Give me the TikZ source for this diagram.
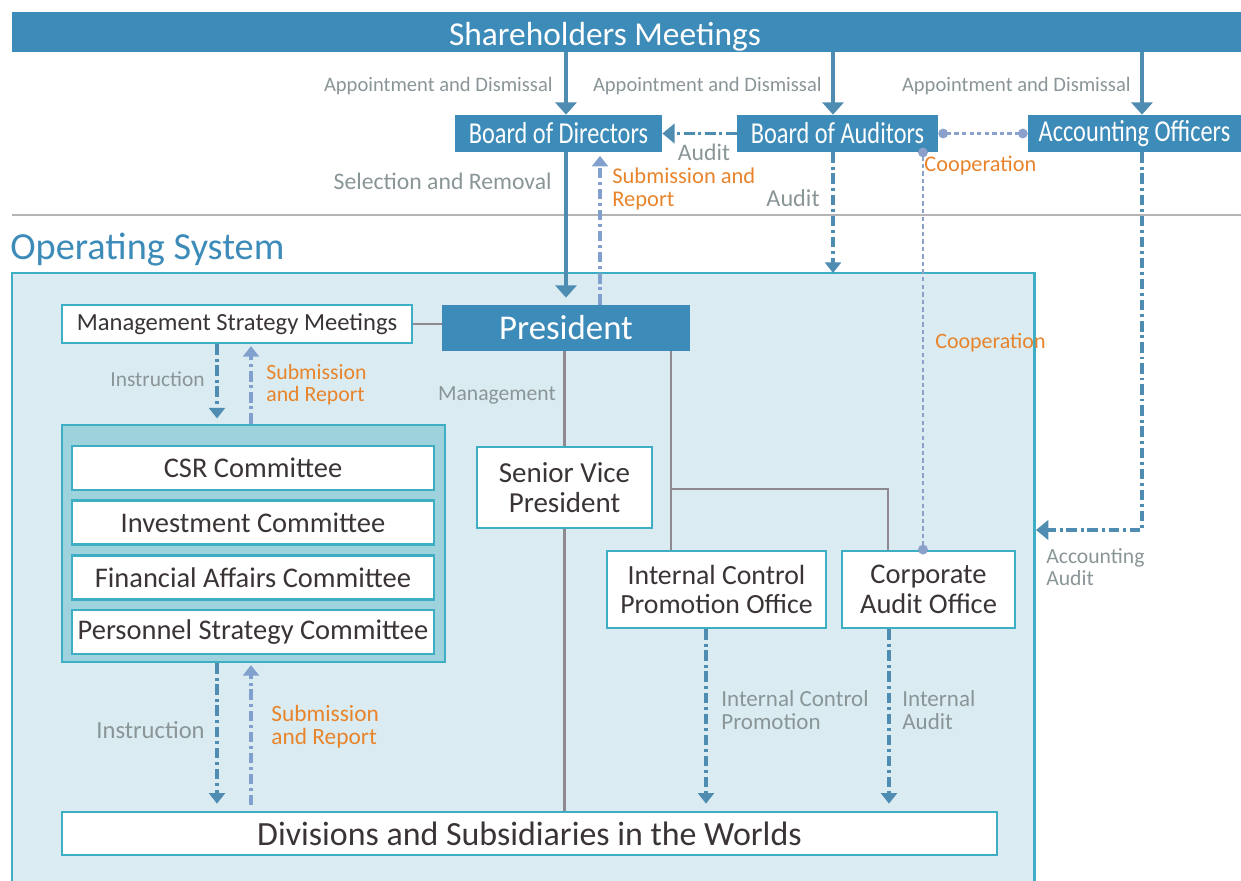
\documentclass[tikz,border=0pt]{standalone}
\usepackage{fontspec}
\setmainfont{Carlito}
\newfontfamily\narrowfont[FakeStretch=0.8]{Carlito}
\usetikzlibrary{positioning,arrows.meta}

\definecolor{ocblue}{HTML}{3D8BB8}
\definecolor{ocarrow}{HTML}{4F8CB2}
\definecolor{ocreport}{HTML}{82A0CE}
\definecolor{occoop}{HTML}{8BA0CB}
\definecolor{ocgray}{HTML}{8A9598}
\definecolor{ocorange}{HTML}{E8842C}
\definecolor{octeal}{HTML}{3DAEC4}
\definecolor{oclight}{HTML}{DAECF1}
\definecolor{ocgroup}{HTML}{9ED3DE}
\definecolor{ocline}{HTML}{8E8891}
\definecolor{ocdark}{HTML}{3A3534}
\definecolor{ocrule}{HTML}{B4B4B4}

\tikzset{
x=0.02cm, y=-0.02cm,
>={Triangle[width=12pt,length=7pt]},
node distance=0.16cm,
bluebox/.style={fill=ocblue, text=white, inner sep=0pt},
headbox/.style={bluebox, minimum height=0.74cm, font=\narrowfont\fontsize{17.3}{19}\selectfont},
whitebox/.style={draw=octeal, fill=white, line width=1.5pt, text=ocdark, inner sep=0pt, align=center},
combox/.style={whitebox, minimum width=7.24cm, minimum height=0.88cm, font=\fontsize{16.2}{18}\selectfont},
graylabel/.style={text=ocgray, inner sep=0pt, align=left},
orangelabel/.style={text=ocorange, inner sep=0pt, align=left},
govarrow/.style={draw=ocarrow, line width=2.3pt, ->},
dashdot/.style={dash pattern=on 6pt off 2.2pt on 1.6pt off 2.2pt},
instrarrow/.style={draw=ocarrow, line width=2.2pt, dashdot, -{Triangle[width=9pt,length=6pt]}},
reportarrow/.style={draw=ocreport, line width=2.2pt, dashdot, -{Triangle[width=9pt,length=6pt]}},
coopline/.style={draw=occoop, line width=1.3pt, dash pattern=on 2.5pt off 1.8pt, {Circle[length=5.5pt]}-{Circle[length=5.5pt]}},
orgline/.style={draw=ocline, line width=1.6pt},
}

\begin{document}
\begin{tikzpicture}
\useasboundingbox (0,0) rectangle (1241,881);

% shareholders and boards
\node[bluebox, minimum width=24.58cm, minimum height=0.8cm] (share) at (626.5,32) {};
\node[text=white, inner sep=0pt, font=\fontsize{19}{21}\selectfont] (sharetext) at (605,37) {Shareholders Meetings};

\node[headbox, minimum width=4.14cm] (bod) at (558.5,133.5) {Board of Directors};
\node[headbox, minimum width=4.02cm] (boa) at (837.5,133.5) {Board of Auditors};
\node[headbox, minimum width=4.26cm] (aco) at (1134.5,133.5) {Accounting Officers};

\coordinate (audx) at (833,273);
\coordinate (accx) at (1142,530);
\coordinate (accend) at (1036,530);
\coordinate (repx) at (600,0);
\coordinate (coopx) at (923,0);

\draw[ocrule, line width=1.1pt] (12,215) -- (1241,215);

% operating system frame
\node[anchor=west, text=ocblue, inner sep=0pt, font=\fontsize{21.8}{24}\selectfont] (opstitle) at (10,250) {Operating System};
\fill[oclight] (12,273) rectangle (1034,881);
\draw[octeal, line width=1.7pt] (12,881) -- (12,273) -- (1034,273) -- (1034,881);

\node[bluebox, minimum width=4.96cm, minimum height=0.92cm, font=\fontsize{19.8}{22}\selectfont] (pres) at (566,328) {President};
\node[whitebox, minimum width=7cm, minimum height=0.76cm, font=\fontsize{14}{16}\selectfont] (msm) at (237,324) {Management Strategy Meetings};

\node[draw=octeal, fill=ocgroup, line width=1.5pt, minimum width=7.66cm, minimum height=4.74cm] (grp) at (253.5,543.5) {};
\node[combox] (csr) at (253,468) {CSR Committee};
\node[combox, below=of csr] (inv) {Investment Committee};
\node[combox, below=of inv] (fin) {Financial Affairs Committee};
\node[combox, below=of fin] (per) {Personnel Strategy Committee};

\node[whitebox, minimum width=3.5cm, minimum height=1.62cm, font=\fontsize{16.5}{17}\selectfont] (svp) at (564.5,487.5) {Senior Vice\\President};
\node[whitebox, minimum width=4.38cm, minimum height=1.54cm, font=\fontsize{15.8}{17}\selectfont] (icpo) at (716.5,589.5) {Internal Control\\Promotion Office};
\node[whitebox, minimum width=3.46cm, minimum height=1.54cm, font=\fontsize{16.2}{17}\selectfont] (cao) at (928.5,589.5) {Corporate\\Audit Office};
\node[whitebox, minimum width=18.7cm, minimum height=0.86cm, font=\fontsize{19.3}{21}\selectfont] (div) at (529.5,833.5) {Divisions and Subsidiaries in the Worlds};

\coordinate (insx) at (217,0);
\coordinate (subx) at (251,0);
\coordinate (ctlx) at (671,489);
\coordinate (audbr) at (888,489);
\coordinate (icx) at (706,0);
\coordinate (iax) at (889,0);

% governance arrows
\draw[govarrow] (share.south -| pres.north) -- (bod.north -| pres.north);
\draw[govarrow] (share.south -| audx) -- (boa.north -| audx);
\draw[govarrow] (share.south -| accx) -- (aco.north -| accx);
\draw[govarrow, shorten >=4pt] (bod.south -| pres.north) -- (pres.north);
\draw[reportarrow, shorten >=2pt] (pres.north -| repx) -- (bod.south -| repx);
\draw[instrarrow, -{Triangle[width=11pt,length=7pt]}] (boa.west) -- (bod.east);
\draw[instrarrow] (boa.south -| audx) -- (audx);
\draw[instrarrow, -{Triangle[width=11pt,length=7pt]}] (aco.south -| accx) -- (accx) -- (accend);
\draw[coopline] (boa.east) -- (aco.west);
\draw[coopline, shorten <=-2.7pt, shorten >=-2.7pt] (boa.south -| coopx) -- (cao.north -| coopx);

\node[graylabel, anchor=east, font=\fontsize{11.7}{13}\selectfont] (apdir) at (553,86) {Appointment and Dismissal};
\node[graylabel, anchor=east, font=\fontsize{11.7}{13}\selectfont] (apaud) at (822,86) {Appointment and Dismissal};
\node[graylabel, anchor=east, font=\fontsize{11.7}{13}\selectfont] (apacc) at (1131,86) {Appointment and Dismissal};
\node[graylabel, font=\fontsize{13.5}{15}\selectfont] (auditlbl) at (704,152) {Audit};
\node[graylabel, anchor=east, font=\fontsize{13.5}{15}\selectfont] (sellbl) at (552,181) {Selection and Removal};
\node[orangelabel, anchor=west, font=\fontsize{12.8}{12.8}\selectfont] (sublbl) at (612,189) {Submission and\\Report};
\node[graylabel, anchor=east, font=\fontsize{13.8}{15}\selectfont] (audlbl) at (820,198) {Audit};
\node[orangelabel, anchor=west, font=\fontsize{12.7}{14}\selectfont] (cooplbl) at (924,166) {Cooperation};
\node[orangelabel, anchor=west, font=\fontsize{12.5}{14}\selectfont] (cooplbl2) at (935,343) {Cooperation};
\node[graylabel, anchor=west, font=\fontsize{12.3}{12.5}\selectfont] (acclbl) at (1046,567) {Accounting\\Audit};

% operating system links
\draw[orgline] (msm.east) -- (msm.east -| pres.west);
\draw[orgline] (pres.south -| svp.north) -- (svp.north);
\draw[orgline] (svp.south) -- (div.north -| svp.south);
\draw[orgline] (pres.south -| ctlx) -- (icpo.north -| ctlx);
\draw[orgline] (ctlx) -| (cao.north -| audbr);

\draw[instrarrow, shorten >=3pt] (msm.south -| insx) -- (grp.north -| insx);
\draw[reportarrow, shorten >=1pt] (grp.north -| subx) -- (msm.south -| subx);
\draw[instrarrow, shorten >=4pt] (grp.south -| insx) -- (div.north -| insx);
\draw[reportarrow, shorten <=3pt, shorten >=1pt] (div.north -| subx) -- (grp.south -| subx);
\draw[instrarrow, shorten >=4pt] (icpo.south -| icx) -- (div.north -| icx);
\draw[instrarrow, shorten >=4pt] (cao.south -| iax) -- (div.north -| iax);

\node[graylabel, anchor=east, font=\fontsize{12.2}{14}\selectfont] (inslbl) at (205,379) {Instruction};
\node[orangelabel, anchor=west, font=\fontsize{12.4}{12.4}\selectfont] (sublbl2) at (266,385) {Submission\\and Report};
\node[graylabel, font=\fontsize{12.3}{14}\selectfont] (mgtlbl) at (497,395) {Management};
\node[graylabel, anchor=east, font=\fontsize{14}{16}\selectfont] (inslbl2) at (205,730) {Instruction};
\node[orangelabel, anchor=west, font=\fontsize{13.3}{13.3}\selectfont] (sublbl3) at (271,727) {Submission\\and Report};
\node[graylabel, anchor=west, font=\fontsize{13.1}{13.1}\selectfont] (ictlbl) at (721,710) {Internal Control\\Promotion};
\node[graylabel, anchor=west, font=\fontsize{13.1}{13.1}\selectfont] (ialbl) at (902,710) {Internal\\Audit};
\end{tikzpicture}
\end{document}
